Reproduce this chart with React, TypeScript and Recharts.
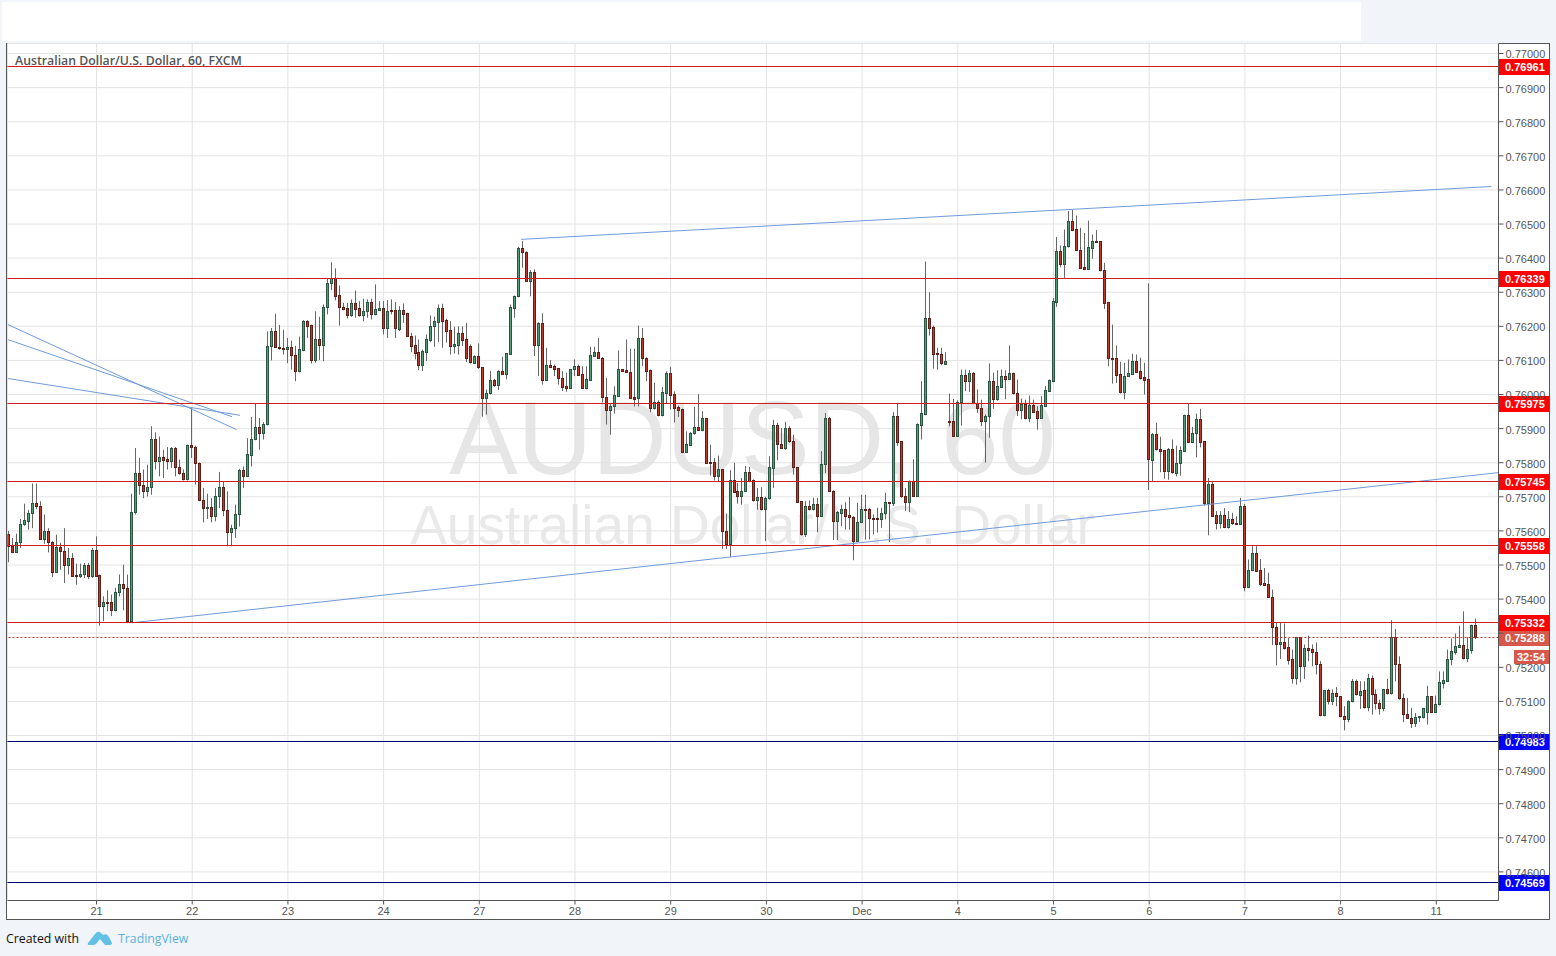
import { Bar, CartesianGrid, ComposedChart, ReferenceLine, XAxis, YAxis } from 'recharts'

// hourly prices in 1/100000 of a dollar
const POINT = 100000

const opens = [
  75588, 75553, 75537, 75565, 75618, 75628, 75650, 75679, 75672, 75576, 75597, 75565,
  75479, 75550, 75540, 75499, 75520, 75469, 75465, 75471, 75498, 75465, 75542, 75469,
  75379, 75391, 75391, 75367, 75418, 75444, 75430, 75333, 75655, 75767, 75734, 75716,
  75726, 75868, 75804, 75814, 75809, 75804, 75843, 75787, 75767, 75750, 75849, 75846,
  75797, 75690, 75666, 75670, 75643, 75702, 75726, 75660, 75596, 75606, 75647, 75777,
  75760, 75822, 75868, 75902, 75887, 75911, 76141, 76185, 76139, 76136, 76133, 76139,
  76115, 76068,
  76130, 76213, 76202, 76101, 76161, 76145, 76254, 76325, 76340, 76290, 76254, 76251,
  76233, 76267, 76252, 76233, 76242, 76269, 76235, 76247, 76251, 76195, 76245, 76246,
  76191, 76246, 76237, 76169, 76143, 76122, 76086, 76124, 76159, 76198, 76212, 76252,
  76217, 76187, 76142, 76144, 76179, 76161, 76142, 76092, 76112, 76078, 75989, 76002,
  76041, 76025, 76067, 76060, 76118, 76253, 76286, 76428, 76417, 76332, 76357, 76145,
  76207, 76042, 76085, 76081, 76075, 76047, 76023, 76019, 76072, 76082, 76058, 76019,
  76042, 76112, 76123, 76107, 75990, 75954, 75965, 75995, 76073, 76069, 76066, 75991,
  75987, 76164, 76107, 76069, 75960, 75978, 75939, 76003, 76063, 75999, 75961, 75956,
  75830, 75851, 75885, 75903, 75895, 75929, 75801, 75802, 75760, 75779, 75599, 75559,
  75749, 75715, 75700, 75717, 75770, 75748, 75690, 75697, 75663, 75694, 75784, 75908,
  75852, 75842, 75899, 75861, 75785, 75685, 75589, 75673, 75662, 75676, 75643, 75795,
  75931, 75717, 75628, 75651, 75662, 75645, 75638, 75570, 75625, 75662, 75663, 75636,
  75636, 75634, 75650, 75682, 75681, 75935, 75861, 75700, 75682, 75745, 75702, 75910,
  75941, 76223, 76197, 76120, 76116, 76089, 75920, 75920, 75878, 75976, 76055, 76039,
  76062, 75974, 75958, 75922, 75935, 76037, 75984, 76022, 76052, 76043, 76061, 76002,
  75954, 75970, 75931, 75968, 75950, 75931, 75966, 76010, 76039, 76271, 76419, 76382,
  76433, 76506, 76483, 76423, 76372, 76368, 76428, 76449, 76448, 76363, 76269, 76107,
  76107, 76059, 76007, 76054, 76060, 76096, 76067, 76050, 76043, 75807, 75884, 75840,
  75835, 75773, 75840, 75768, 75797, 75833, 75938, 75860, 75885, 75926, 75861, 75680,
  75735, 75644, 75621, 75644, 75610, 75632, 75623, 75619, 75673, 75435, 75484, 75535,
  75483, 75445, 75442, 75406, 75318, 75268, 75274, 75257, 75222, 75166, 75287, 75203,
  75254, 75251, 75242, 75207, 75058, 75131, 75100, 75122, 75113, 75056, 75046, 75100,
  75157, 75118, 75131, 75081, 75166, 75120, 75093, 75078, 75135, 75122, 75288, 75207,
  75108, 75061, 75051, 75034, 75052, 75052, 75066, 75113, 75068, 75090, 75153, 75159,
  75223, 75244, 75259, 75264, 75225, 75250, 75322,
]

const highs = [
  75600, 75579, 75592, 75635, 75680, 75662, 75739, 75739, 75687, 75648, 75608, 75570,
  75589, 75565, 75608, 75550, 75535, 75504, 75504, 75506, 75506, 75550, 75584, 75472,
  75408, 75426, 75413, 75433, 75472, 75501, 75472, 75709, 75843, 75814, 75780, 75794,
  75907, 75889, 75877, 75838, 75846, 75846, 75846, 75809, 75780, 75853, 75960, 75850,
  75801, 75726, 75709, 75696, 75726, 75773, 75745, 75716, 75618, 75677, 75782, 75789,
  75872, 75934, 75975, 75931, 75919, 76185, 76195, 76237, 76204, 76190, 76166, 76158,
  76143, 76170,
  76218, 76218, 76205, 76244, 76228, 76264, 76342, 76388, 76370, 76320, 76269, 76269,
  76279, 76305, 76274, 76281, 76279, 76281, 76323, 76274, 76274, 76277, 76279, 76271,
  76259, 76267, 76240, 76181, 76173, 76161, 76132, 76176, 76232, 76228, 76264, 76266,
  76222, 76215, 76199, 76200, 76200, 76210, 76147, 76115, 76150, 76081, 76015, 76069,
  76046, 76071, 76111, 76122, 76264, 76290, 76433, 76450, 76420, 76365, 76367, 76212,
  76238, 76137, 76101, 76088, 76078, 76069, 76064, 76075, 76103, 76088, 76083, 76083,
  76140, 76140, 76166, 76110, 76049, 75975, 76024, 76129, 76075, 76161, 76134, 76134,
  76202, 76195, 76109, 76073, 76034, 75983, 76022, 76068, 76081, 76009, 75967, 75959,
  75892, 75890, 75964, 76001, 75951, 75931, 75853, 75814, 75821, 75782, 75651, 75778,
  75799, 75741, 75755, 75790, 75788, 75751, 75726, 75728, 75700, 75819, 75926, 75917,
  75902, 75920, 75907, 75882, 75788, 75687, 75687, 75689, 75697, 75697, 75834, 75946,
  75934, 75719, 75658, 75677, 75684, 75700, 75643, 75682, 75706, 75706, 75668, 75648,
  75668, 75668, 75712, 75684, 75948, 75976, 75863, 75726, 75748, 75810, 75915, 76039,
  76390, 76300, 76202, 76137, 76137, 76124, 76003, 75987, 75983, 76073, 76073, 76072,
  76066, 76015, 75985, 75942, 76091, 76064, 76071, 76073, 76071, 76144, 76064, 76044,
  75988, 75985, 75997, 75985, 75966, 75995, 76025, 76044, 76283, 76462, 76437, 76484,
  76538, 76541, 76525, 76489, 76474, 76510, 76469, 76482, 76450, 76386, 76272, 76205,
  76144, 76096, 76093, 76103, 76120, 76117, 76108, 76093, 76326, 75887, 75917, 75876,
  75836, 75843, 75868, 75850, 75848, 75941, 75973, 75905, 75944, 75958, 75863, 75755,
  75745, 75658, 75658, 75667, 75658, 75653, 75643, 75697, 75679, 75516, 75555, 75555,
  75518, 75491, 75477, 75428, 75332, 75330, 75328, 75286, 75252, 75289, 75289, 75267,
  75293, 75267, 75273, 75218, 75133, 75137, 75135, 75142, 75115, 75086, 75103, 75166,
  75164, 75159, 75159, 75181, 75176, 75135, 75105, 75137, 75166, 75338, 75312, 75232,
  75123, 75110, 75081, 75066, 75056, 75081, 75146, 75115, 75117, 75188, 75188, 75252,
  75284, 75299, 75322, 75364, 75289, 75325, 75343,
]

const lows = [
  75508, 75535, 75537, 75550, 75615, 75604, 75608, 75664, 75574, 75562, 75537, 75465,
  75477, 75486, 75447, 75472, 75465, 75442, 75462, 75462, 75459, 75462, 75465, 75322,
  75335, 75364, 75350, 75364, 75408, 75367, 75330, 75330, 75648, 75706, 75696, 75701,
  75706, 75780, 75760, 75755, 75780, 75785, 75760, 75765, 75748, 75748, 75814, 75736,
  75687, 75625, 75635, 75625, 75628, 75667, 75643, 75555, 75555, 75579, 75613, 75726,
  75758, 75789, 75866, 75838, 75868, 75909, 76100, 76136, 76131, 76117, 76092, 76073,
  76039, 76065,
  76127, 76166, 76091, 76093, 76101, 76098, 76235, 76306, 76276, 76202, 76247, 76223,
  76228, 76225, 76228, 76215, 76225, 76220, 76232, 76246, 76176, 76166, 76235, 76166,
  76186, 76210, 76169, 76124, 76103, 76071, 76069, 76098, 76154, 76140, 76154, 76137,
  76152, 76117, 76120, 76117, 76142, 76095, 76091, 76091, 76075, 75935, 75941, 76000,
  76023, 76013, 76058, 76044, 76116, 76225, 76285, 76372, 76330, 76288, 76113, 76054,
  76029, 76041, 76077, 76054, 76029, 76010, 76008, 76017, 76054, 76054, 76017, 76015,
  76040, 76110, 76104, 75977, 75912, 75882, 75944, 75993, 76067, 76065, 75987, 75965,
  75965, 76083, 76039, 75948, 75956, 75936, 75936, 75975, 75956, 75918, 75934, 75828,
  75829, 75849, 75882, 75895, 75892, 75796, 75762, 75748, 75746, 75547, 75547, 75524,
  75711, 75680, 75677, 75715, 75743, 75686, 75662, 75660, 75570, 75692, 75726, 75807,
  75840, 75838, 75858, 75765, 75682, 75586, 75582, 75660, 75660, 75596, 75641, 75770,
  75715, 75573, 75573, 75614, 75604, 75604, 75514, 75568, 75623, 75574, 75575, 75590,
  75595, 75609, 75634, 75567, 75673, 75849, 75697, 75658, 75655, 75700, 75700, 75868,
  75939, 76173, 76076, 76073, 76086, 76088, 75907, 75876, 75876, 75909, 76010, 76008,
  75972, 75946, 75907, 75800, 75873, 75958, 75982, 76020, 75986, 76042, 76000, 75937,
  75927, 75927, 75919, 75946, 75897, 75929, 75964, 76007, 76036, 76257, 76373, 76342,
  76431, 76479, 76421, 76369, 76365, 76367, 76398, 76445, 76361, 76251, 76083, 76032,
  76034, 76003, 75986, 76052, 76058, 76064, 76044, 76000, 75720, 75743, 75836, 75772,
  75753, 75750, 75768, 75760, 75762, 75832, 75858, 75858, 75816, 75845, 75674, 75587,
  75641, 75604, 75607, 75608, 75607, 75618, 75617, 75617, 75423, 75432, 75482, 75480,
  75438, 75440, 75404, 75265, 75206, 75224, 75252, 75208, 75152, 75149, 75156, 75166,
  75218, 75203, 75179, 75056, 75056, 75091, 75089, 75086, 75053, 75015, 75039, 75097,
  75117, 75078, 75079, 75071, 75061, 75076, 75061, 75071, 75120, 75120, 75159, 75105,
  75039, 75049, 75022, 75025, 75039, 75050, 75032, 75066, 75066, 75088, 75138, 75157,
  75206, 75237, 75257, 75223, 75215, 75240, 75283,
]

const closes = [
  75555, 75537, 75565, 75620, 75630, 75650, 75679, 75672, 75576, 75597, 75565, 75479,
  75550, 75540, 75499, 75520, 75467, 75465, 75471, 75498, 75465, 75542, 75467, 75379,
  75391, 75390, 75367, 75418, 75444, 75430, 75333, 75655, 75767, 75734, 75716, 75726,
  75868, 75804, 75814, 75806, 75804, 75843, 75786, 75767, 75750, 75850, 75846, 75797,
  75690, 75667, 75670, 75643, 75702, 75726, 75660, 75596, 75606, 75647, 75777, 75760,
  75824, 75868, 75902, 75887, 75911, 76141, 76185, 76139, 76135, 76133, 76139, 76115,
  76068, 76132,
  76213, 76200, 76101, 76161, 76145, 76254, 76326, 76340, 76288, 76254, 76249, 76233,
  76267, 76249, 76233, 76243, 76269, 76236, 76249, 76251, 76195, 76243, 76242, 76193,
  76246, 76235, 76169, 76142, 76120, 76086, 76126, 76161, 76200, 76214, 76252, 76215,
  76186, 76142, 76147, 76179, 76159, 76107, 76093, 76112, 76078, 75989, 76003, 76041,
  76025, 76067, 76060, 76120, 76254, 76288, 76428, 76416, 76332, 76357, 76145, 76207,
  76042, 76085, 76079, 76073, 76046, 76022, 76019, 76073, 76082, 76057, 76019, 76044,
  76114, 76123, 76106, 75990, 75954, 75966, 75997, 76073, 76068, 76066, 75989, 75986,
  76164, 76107, 76068, 75960, 75977, 75939, 76005, 76063, 75998, 75958, 75954, 75830,
  75853, 75887, 75903, 75895, 75929, 75798, 75798, 75760, 75779, 75599, 75559, 75749,
  75713, 75700, 75717, 75770, 75745, 75690, 75698, 75663, 75694, 75785, 75908, 75852,
  75842, 75899, 75861, 75785, 75684, 75589, 75673, 75662, 75676, 75643, 75796, 75931,
  75717, 75628, 75653, 75662, 75643, 75638, 75570, 75626, 75662, 75660, 75636, 75633,
  75633, 75650, 75682, 75681, 75935, 75860, 75700, 75682, 75745, 75702, 75912, 75943,
  76223, 76195, 76118, 76116, 76090, 76096, 75919, 75878, 75976, 76055, 76039, 76062,
  75974, 75958, 75922, 75935, 76037, 75984, 76023, 76052, 76043, 76061, 76002, 75954,
  75970, 75931, 75968, 75948, 75931, 75968, 76011, 76041, 76273, 76419, 76382, 76433,
  76506, 76482, 76423, 76371, 76367, 76430, 76449, 76447, 76363, 76268, 76105, 76105,
  76057, 76007, 76054, 76062, 76096, 76066, 76048, 76042, 75808, 75884, 75838, 75833,
  75773, 75840, 75770, 75799, 75835, 75938, 75860, 75887, 75926, 75860, 75680, 75735,
  75643, 75621, 75644, 75610, 75632, 75621, 75619, 75673, 75435, 75485, 75535, 75482,
  75442, 75441, 75406, 75317, 75268, 75274, 75256, 75221, 75166, 75287, 75203, 75254,
  75250, 75242, 75207, 75058, 75131, 75100, 75122, 75113, 75056, 75046, 75101, 75157,
  75120, 75130, 75081, 75166, 75120, 75093, 75078, 75135, 75122, 75288, 75207, 75108,
  75061, 75051, 75034, 75054, 75055, 75078, 75113, 75068, 75091, 75154, 75160, 75224,
  75245, 75261, 75264, 75225, 75252, 75323, 75288,
]

const candles = opens.map((open, i) => ({
  i,
  open: open / POINT,
  high: highs[i] / POINT,
  low: lows[i] / POINT,
  close: closes[i] / POINT,
}))

const priceTicks = [
  0.746, 0.747, 0.748, 0.749, 0.75, 0.751, 0.752, 0.753, 0.754, 0.755, 0.756, 0.757, 0.758,
  0.759, 0.76, 0.761, 0.762, 0.763, 0.764, 0.765, 0.766, 0.767, 0.768, 0.769, 0.77,
]
// 0.75300 sits right behind the two price tags, the reference shows nothing of it
const coveredTick = 0.753
const dayIndexes = [22, 46, 70, 94, 118, 142, 166, 190, 214, 238, 262, 286, 310, 334, 358]
const dayLabels = ['21', '22', '23', '24', '27', '28', '29', '30', 'Dec', '4', '5', '6', '7', '8', '11']

const resistanceLevels = [0.76961, 0.76339, 0.75975, 0.75745, 0.75558, 0.75332]
const supportLevels = [0.74983, 0.74569]
const lastPrice = 0.75288
const countdown = '32:54'

// drawn trend lines: [start index, start price, end index, end price]
const trendLines = [
  [31.2, 0.75331, 373.6, 0.75771],
  [128.5, 0.76455, 371.8, 0.7661],
  [-0.2, 0.76205, 57.1, 0.75897],
  [-0.2, 0.76161, 56, 0.75935],
  [-0.2, 0.76047, 58, 0.75939],
]

const AXIS_FONT = '"Liberation Sans", Arial, sans-serif'
const UP_FILL = '#519d76'
const UP_EDGE = '#2a5540'
const DOWN_FILL = '#bb3a2c'
const DOWN_EDGE = '#5e1f18'
const WICK = '#666'

// snap to a pixel centre so the 1px strokes stay crisp like the original canvas
const snap = (v: number) => Math.floor(v) + 0.5

function Candle(props: any) {
  const { x, y, width, height, payload } = props
  const top = Math.min(y, y + height)
  const h = Math.abs(height)
  const perPrice = h / (payload.high - payload.low)
  const cx = snap(x + width / 2)
  const up = payload.close >= payload.open
  const bodyTop = snap(top + (payload.high - Math.max(payload.open, payload.close)) * perPrice)
  const bodyBottom = snap(top + (payload.high - Math.min(payload.open, payload.close)) * perPrice)
  return (
    <g>
      <line x1={cx} x2={cx} y1={top} y2={top + h} stroke={WICK} strokeWidth={1} />
      <rect
        x={cx - 1}
        y={bodyTop}
        width={2}
        height={Math.max(bodyBottom - bodyTop, 1)}
        fill={up ? UP_FILL : DOWN_FILL}
        stroke={up ? UP_EDGE : DOWN_EDGE}
        strokeWidth={1}
      />
    </g>
  )
}

function LevelLine(props: any) {
  const { x1, x2, y1, stroke, strokeDasharray } = props
  const y = snap(y1)
  return <line x1={x1} x2={x2} y1={y} y2={y} stroke={stroke} strokeWidth={1} strokeDasharray={strokeDasharray} />
}

function PriceTag(props: any) {
  const { viewBox, value, fill, extra } = props
  const left = Math.floor(viewBox.x + viewBox.width)
  const y = Math.floor(viewBox.y)
  return (
    <g>
      <rect x={left} y={y - 7} width={51} height={16} fill={fill} />
      <text x={left + 7} y={y + 5} fill="#fff" fontFamily={AXIS_FONT} fontSize={11} fontWeight={700}>
        {value.toFixed(5)}
      </text>
      {extra && (
        <g>
          <rect x={left + 16} y={y + 13} width={35} height={14} fill={fill} />
          <text x={left + 19} y={y + 24} fill="#fff" fontFamily={AXIS_FONT} fontSize={11} fontWeight={700}>
            {extra}
          </text>
        </g>
      )}
    </g>
  )
}

export default function App() {
  return (
    <div style={{ position: 'absolute', left: 0, top: 0, width: 1556, height: 956, background: '#f1f4f8', overflow: 'hidden' }}>
      <div style={{ position: 'absolute', left: 2, top: 2, width: 1359, height: 39, background: '#fff' }} />
      <div style={{ position: 'absolute', left: 6, top: 43, width: 1542, height: 875, background: '#fff', border: '1px solid #555' }} />

      {/* watermark sits under the chart */}
      <div style={{ position: 'absolute', left: 7, width: 1491, top: 383, textAlign: 'center', fontFamily: AXIS_FONT, fontSize: 103, lineHeight: '112px', color: '#e6e6e6', whiteSpace: 'nowrap' }}>
        AUDUSD, 60
      </div>
      <div style={{ position: 'absolute', left: 7, width: 1491, top: 495, textAlign: 'center', fontFamily: AXIS_FONT, fontSize: 55, lineHeight: '60px', color: '#e9e9e9', whiteSpace: 'nowrap' }}>
        Australian Dollar/U.S. Dollar
      </div>

      <div style={{ position: 'absolute', left: 0, top: 0 }}>
        <ComposedChart width={1556} height={956} data={candles} margin={{ top: 43.5, right: 6.5, bottom: 36.5, left: 7.5 }}>
          <CartesianGrid stroke="#e3e3e3" strokeWidth={1} />
          <XAxis
            dataKey="i"
            type="number"
            domain={[-0.32, 373.6]}
            allowDataOverflow
            ticks={dayIndexes}
            interval={0}
            height={19}
            tickFormatter={(v: number) => dayLabels[dayIndexes.indexOf(v)]}
            tick={{ fontFamily: AXIS_FONT, fontSize: 11, fill: '#555' }}
            tickSize={4}
            tickMargin={3}
            axisLine={{ stroke: '#555' }}
            tickLine={{ stroke: '#555' }}
          />
          <YAxis
            orientation="right"
            type="number"
            domain={[0.745161, 0.770294]}
            allowDataOverflow
            ticks={priceTicks}
            interval={0}
            width={51}
            tickFormatter={(v: number) => (v === coveredTick ? '' : v.toFixed(5))}
            tick={{ fontFamily: AXIS_FONT, fontSize: 11, fill: '#555', dy: 1 }}
            tickSize={5}
            tickMargin={2}
            axisLine={{ stroke: '#555' }}
            tickLine={{ stroke: '#555' }}
          />
          <Bar
            dataKey={(d: any) => [d.low, d.high]}
            barSize={3}
            isAnimationActive={false}
            shape={<Candle />}
          />
          {trendLines.map((t, n) => (
            <ReferenceLine
              key={`trend-${n}`}
              segment={[{ x: t[0], y: t[1] }, { x: t[2], y: t[3] }]}
              stroke="#6f9bdc"
              strokeWidth={1}
              ifOverflow="visible"
            />
          ))}
          <ReferenceLine
            y={lastPrice}
            stroke="#b8392c"
            strokeDasharray="2 2"
            shape={<LevelLine />}
            label={(p: any) => <PriceTag {...p} value={lastPrice} fill="#d6584b" extra={countdown} />}
          />
          {resistanceLevels.map((level) => (
            <ReferenceLine
              key={level}
              y={level}
              stroke="#d01c1c"
              shape={<LevelLine />}
              label={(p: any) => <PriceTag {...p} value={level} fill="#ff0000" />}
            />
          ))}
          {supportLevels.map((level) => (
            <ReferenceLine
              key={level}
              y={level}
              stroke="#00007e"
              shape={<LevelLine />}
              label={(p: any) => <PriceTag {...p} value={level} fill="#0000ff" />}
            />
          ))}
        </ComposedChart>
      </div>

      <div style={{ position: 'absolute', left: 15, top: 52, fontFamily: '"Open Sans", sans-serif', fontSize: 12.3, fontWeight: 600, color: '#555', whiteSpace: 'nowrap' }}>
        Australian Dollar/U.S. Dollar, 60, FXCM
      </div>

      <div style={{ position: 'absolute', left: 6, top: 930, fontFamily: '"Open Sans", sans-serif', fontSize: 12.3, color: '#111', whiteSpace: 'nowrap' }}>
        Created with
      </div>
      <svg style={{ position: 'absolute', left: 87, top: 929 }} width={26} height={18}>
        <path d="M1 14 L8 5 Q10 2 13 3 L16 6 Q20 4 22 8 L25 14 Q25 16 22 16 L18 16 L13 10 L9 15 Q8 16 6 16 L2 16 Q0 16 1 14 Z" fill="#62c1e5" />
      </svg>
      <div style={{ position: 'absolute', left: 118, top: 930, fontFamily: '"Open Sans", sans-serif', fontSize: 12.3, color: '#5cb3dc', whiteSpace: 'nowrap' }}>
        TradingView
      </div>
    </div>
  )
}
